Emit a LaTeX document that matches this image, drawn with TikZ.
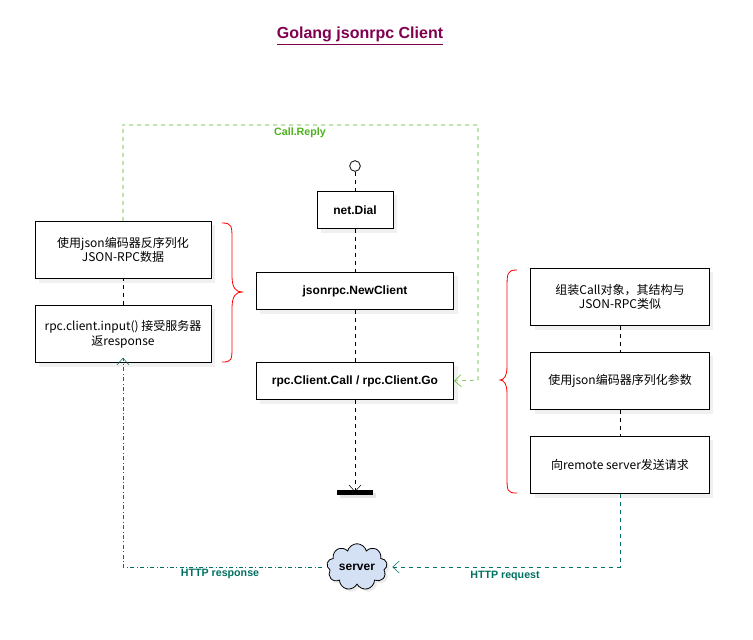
\documentclass[tikz,border=0pt]{standalone}
\usepackage{fontspec}
\setmainfont{Liberation Sans}
\newfontfamily\cjk{Noto Sans CJK SC}
\usetikzlibrary{shapes.symbols, arrows.meta, positioning, shadows}
\definecolor{titlec}{HTML}{800050}
\definecolor{replyc}{HTML}{4CB31C}
\definecolor{httpc}{HTML}{007060}
\definecolor{cloudc}{HTML}{D4E1F5}
\tikzset{
  stage/.style={draw, semithick, fill=white, minimum height=28pt, font=\bfseries\small,
    drop shadow={opacity=0.12, shadow xshift=3pt, shadow yshift=-3pt}},
  note/.style={draw, semithick, fill=white, minimum width=132pt, minimum height=43pt, align=center,
    font=\cjk\small, drop shadow={opacity=0.12, shadow xshift=3pt, shadow yshift=-3pt}},
  flow/.style={dashed, -{Straight Barb[length=5pt, width=9pt]}},
  brace/.style={red, semithick}
}
\begin{document}
\begin{tikzpicture}[x=0.75pt, y=-0.75pt]
\useasboundingbox (0,0) rectangle (753,639);
% Titre
\node[font=\bfseries\large, text=titlec] (title) at (360,36) {\underline{Golang jsonrpc Client}};

% Flux principal
\node[draw, circle, semithick, inner sep=0pt, minimum size=8pt, fill=white] (start) at (355,166) {};
\node[stage, minimum width=57pt] (dial) at (355,210) {net.Dial};
\node[stage, minimum width=148pt] (newc) at (355,291) {jsonrpc.NewClient};
\node[stage, minimum width=148pt] (call) at (355,381) {rpc.Client.Call / rpc.Client.Go};
\coordinate (endc) at (355,492);
\fill[drop shadow={opacity=0.2, shadow xshift=2pt, shadow yshift=-2pt}] (337,490) rectangle (373,495);
\draw[dashed] (start) -- (dial);
\draw[dashed] (dial) -- (newc);
\draw[dashed] (newc) -- (call);
\draw[flow] (call) -- (endc);

% Côté gauche
\node[note] (decode) at (123,250) {使用json编码器反序列化\\JSON-RPC数据};
\node[note] (input) at (123,334) {rpc.client.input() 接受服务器\\返response};
\draw[dashed] (input) -- (decode);
\draw[brace] (222,223) .. controls (232,223) and (232,226) .. (232,240)
  -- (232,276) .. controls (232,288) and (236,292) .. (242,292)
  .. controls (236,292) and (232,296) .. (232,308)
  -- (232,346) .. controls (232,360) and (232,362) .. (222,362);

% Côté droit
\node[note, minimum width=134pt] (build) at (620,297) {组装Call对象，其结构与\\JSON-RPC类似};
\node[note, minimum width=134pt] (encode) at (620,381) {使用json编码器序列化参数};
\node[note, minimum width=134pt] (send) at (620,465) {向remote server发送请求};
\draw[dashed] (build) -- (encode);
\draw[dashed] (encode) -- (send);
\draw[brace] (517,270) .. controls (507,270) and (507,273) .. (507,290)
  -- (507,366) .. controls (507,376) and (504,380) .. (500,380)
  .. controls (504,380) and (507,384) .. (507,394)
  -- (507,476) .. controls (507,491) and (507,493) .. (517,493);

% Serveur
\node[cloud, draw, semithick, fill=cloudc, cloud puffs=9, aspect=1.6, inner sep=1pt,
  font=\bfseries\small, drop shadow={opacity=0.15, shadow xshift=2pt, shadow yshift=-2pt}] (server) at (357,567) {server};

% Retours
\draw[flow, replyc] (decode.north) |- (122,125) -| (478,380) -- (call.east);
\node[font=\bfseries\footnotesize, text=replyc] (replylbl) at (300,133) {Call.Reply};
\draw[flow, httpc] (send.south) |- ([xshift=4pt]server.east);
\node[font=\bfseries\footnotesize, text=httpc] (reqlbl) at (505,576) {HTTP request};
\draw[flow, httpc, dash dot] ([xshift=-4pt]server.west) -| ([yshift=4pt]input.south);
\node[font=\bfseries\footnotesize, text=httpc] (resplbl) at (220,574) {HTTP response};
\end{tikzpicture}
\end{document}
